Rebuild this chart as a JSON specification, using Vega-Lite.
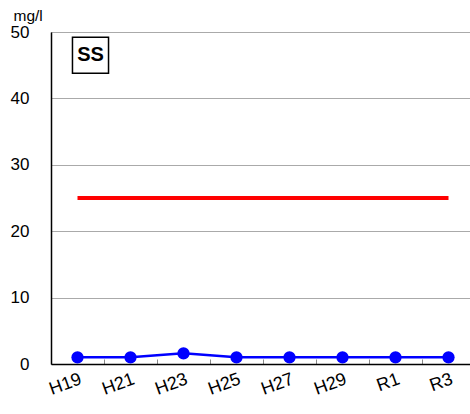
{
  "$schema": "https://vega.github.io/schema/vega-lite/v6.json",
  "width": 424,
  "height": 332,
  "autosize": "none",
  "padding": {"left": 51, "top": 32, "right": 0, "bottom": 50},
  "config": {
    "view": {"stroke": null},
    "font": "Liberation Sans"
  },
  "data": {
    "values": [
      {"year": "H19", "ss": 1.0, "std": 25},
      {"year": "H21", "ss": 1.0, "std": 25},
      {"year": "H23", "ss": 1.6, "std": 25},
      {"year": "H25", "ss": 1.0, "std": 25},
      {"year": "H27", "ss": 1.0, "std": 25},
      {"year": "H29", "ss": 1.0, "std": 25},
      {"year": "R1", "ss": 1.0, "std": 25},
      {"year": "R3", "ss": 1.0, "std": 25}
    ]
  },
  "encoding": {
    "x": {
      "field": "year", "type": "nominal", "sort": null,
      "scale": {"type": "band", "paddingInner": 0, "paddingOuter": 0},
      "axis": {
        "title": null, "labelAngle": -20, "labelAlign": "right", "labelBaseline": "top",
        "labelFontSize": 18, "labelColor": "#000", "labelPadding": 11, "labelOffset": 0,
        "domainColor": "#000", "domainWidth": 1.5,
        "ticks": true, "tickBand": "extent", "tickSize": -5, "tickColor": "#888",
        "grid": false
      }
    }
  },
  "layer": [
    {
      "mark": {"type": "line", "color": "#ff0000", "strokeWidth": 4},
      "encoding": {
        "y": {
          "field": "std", "type": "quantitative",
          "scale": {"domain": [0, 50], "nice": false},
          "axis": {
            "values": [0, 10, 20, 30, 40, 50],
            "title": "mg/l", "titleAngle": 0, "titleAlign": "left", "titleBaseline": "bottom",
            "titleX": -38, "titleY": -9, "titleFontSize": 15.5, "titleFontWeight": "normal", "titleColor": "#000",
            "labelFontSize": 17, "labelColor": "#000", "labelPadding": 22,
            "ticks": false, "domainColor": "#000", "domainWidth": 1.5,
            "grid": true, "gridColor": "#555", "gridDash": [1, 1], "gridWidth": 1
          }
        }
      }
    },
    {
      "mark": {"type": "line", "color": "#0000ff", "strokeWidth": 2.5, "point": {"filled": true, "size": 150, "color": "#0000ff", "opacity": 1}},
      "encoding": {
        "y": {"field": "ss", "type": "quantitative"}
      }
    },
    {
      "data": {"values": [{"year": "H19", "label": "SS", "y": 46.5}]},
      "mark": {"type": "point", "shape": "square", "filled": false, "stroke": "#000", "strokeWidth": 1.5, "size": 1300, "opacity": 1, "xOffset": 13},
      "encoding": {"y": {"field": "y", "type": "quantitative"}}
    },
    {
      "data": {"values": [{"year": "H19", "label": "SS", "y": 46.5}]},
      "mark": {"type": "text", "fontSize": 20, "fontWeight": "bold", "color": "#000", "xOffset": 13, "baseline": "middle"},
      "encoding": {"y": {"field": "y", "type": "quantitative"}, "text": {"field": "label"}}
    }
  ]
}
